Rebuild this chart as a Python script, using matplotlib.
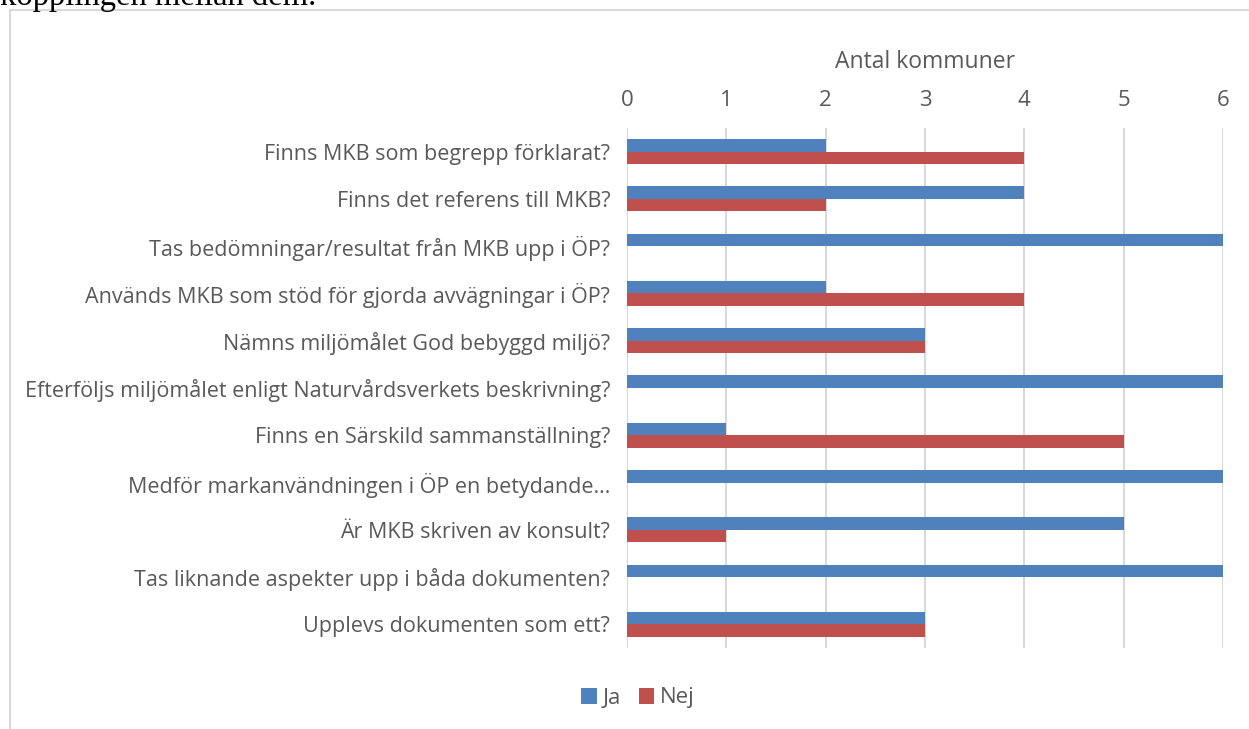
import matplotlib.pyplot as plt
from matplotlib.patches import Rectangle
import numpy as np

questions = [
    "Finns MKB som begrepp förklarat?",
    "Finns det referens till MKB?",
    "Tas bedömningar/resultat från MKB upp i ÖP?",
    "Används MKB som stöd för gjorda avvägningar i ÖP?",
    "Nämns miljömålet God bebyggd miljö?",
    "Efterföljs miljömålet enligt Naturvårdsverkets beskrivning?",
    "Finns en Särskild sammanställning?",
    "Medför markanvändningen i ÖP en betydande…",
    "Är MKB skriven av konsult?",
    "Tas liknande aspekter upp i båda dokumenten?",
    "Upplevs dokumenten som ett?",
]
ja = [2, 4, 6, 2, 3, 6, 1, 6, 5, 6, 3]
nej = [4, 2, 0, 4, 3, 0, 5, 0, 1, 0, 3]
ticks = [0, 1, 2, 3, 4, 5, 6]

blue = "#4F81BD"
red = "#C0504D"
grey = "#595959"
grid = "#D9D9D9"

plt.rcParams["font.family"] = ["Open Sans", "DejaVu Sans"]

fig = plt.figure(figsize=(12.49, 7.29), dpi=100)

# text from the document above the chart, cut off at the top
fig.text(0.0, 1.0 - 5 / 729, "kopplingen mellan dem.", family="Liberation Serif",
         fontsize=23.5, color="black", ha="left", va="baseline")

# chart frame
fig.patches.append(Rectangle((9.5 / 1249, -0.1), 1.2, 1.0 - 10.5 / 729 + 0.1,
                             transform=fig.transFigure, fill=False,
                             edgecolor=grid, linewidth=1.5))

ax = fig.add_axes([627 / 1249, 1 - 648 / 729, (1223 - 627) / 1249, (648 - 128) / 729])

y = np.arange(len(questions))
h = 0.265
ax.barh(y - h / 2, ja, height=h, color=blue, label="Ja", zorder=3)
ax.barh(y + h / 2, nej, height=h, color=red, label="Nej", zorder=3)

ax.set_xlim(0, 6)
ax.set_ylim(len(questions) - 0.5, -0.5)
ax.set_xticks(ticks)
ax.set_yticks(y)
ax.set_yticklabels(questions)
ax.xaxis.tick_top()
ax.xaxis.set_label_position("top")
ax.set_xlabel("Antal kommuner", fontsize=16.5, color=grey, labelpad=16)
ax.tick_params(axis="x", length=0, labelsize=16, labelcolor=grey, pad=12)
ax.tick_params(axis="y", length=0, labelsize=15.5, labelcolor=grey, pad=12)
for s in ax.spines.values():
    s.set_visible(False)
ax.grid(axis="x", color=grid, linewidth=1.5, zorder=0)

fig.legend(loc="center", bbox_to_anchor=(638 / 1249, 1 - 698 / 729), ncol=2,
           frameon=False, fontsize=16, handlelength=0.7, handleheight=0.7,
           handletextpad=0.25, columnspacing=0.8, labelcolor=grey)

fig.savefig("out.png", dpi=100)
